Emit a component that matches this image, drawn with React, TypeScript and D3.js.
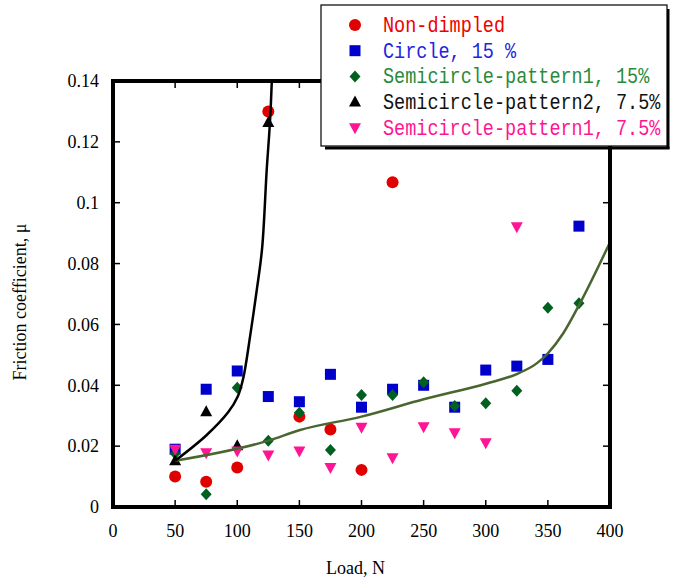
import React from "react";
import * as d3 from "d3";

const loads = [50, 75, 100, 125, 150, 175, 200, 225, 250, 275, 300, 325, 350, 375];

const nonDimpled: [number, number][] = [
  [50, 0.010], [75, 0.0083], [100, 0.013], [125, 0.130], [150, 0.0297],
  [175, 0.0255], [200, 0.0122], [225, 0.1067],
];
const circle15: [number, number][] = [
  [50, 0.019], [75, 0.0387], [100, 0.0447], [125, 0.0363], [150, 0.0346],
  [175, 0.0436], [200, 0.0328], [225, 0.0387], [250, 0.040], [275, 0.0328],
  [300, 0.045], [325, 0.0463], [350, 0.0485], [375, 0.0923],
];
const semi1_15: [number, number][] = [
  [50, 0.0176], [75, 0.0042], [100, 0.0392], [125, 0.0218], [150, 0.031],
  [175, 0.0187], [200, 0.0368], [225, 0.0368], [250, 0.041], [275, 0.0332],
  [300, 0.0341], [325, 0.0382], [350, 0.0655], [375, 0.067],
];
const semi2_75: [number, number][] = [
  [50, 0.0152], [75, 0.0313], [100, 0.0201], [125, 0.1264],
];
const semi1_75: [number, number][] = [
  [50, 0.019], [75, 0.0178], [100, 0.0184], [125, 0.0171], [150, 0.0184],
  [175, 0.013], [200, 0.0262], [225, 0.0162], [250, 0.0264], [275, 0.0244],
  [300, 0.0211], [325, 0.0921],
];

// fitted trend curves
const blackCurve: [number, number][] = [
  [50, 0.0152], [75, 0.0235], [92.8, 0.0312], [100.3, 0.0362], [104.9, 0.0425],
  [110.3, 0.056], [115.6, 0.071], [120, 0.085], [123.7, 0.1107], [126.4, 0.127], [128, 0.142],
];
const greenCurve: [number, number][] = [
  [50, 0.0152], [125, 0.0218], [150.5, 0.0253], [200, 0.0297], [250, 0.0354],
  [300.8, 0.0406], [325, 0.0437], [341, 0.0472], [350, 0.0505], [362.4, 0.0571],
  [375.8, 0.0669], [400, 0.087],
];

const xTicks = [0, 50, 100, 150, 200, 250, 300, 350, 400];
const yTicks = [0, 0.02, 0.04, 0.06, 0.08, 0.1, 0.12, 0.14];

const legendLabels = [
  "Non-dimpled",
  "Circle, 15 %",
  "Semicircle-pattern1, 15%",
  "Semicircle-pattern2, 7.5%",
  "Semicircle-pattern1, 7.5%",
];

const L = 113, R = 610, T = 81, B = 507;

function Marker({ shape, cx, cy, color }: { shape: string; cx: number; cy: number; color: string }) {
  if (shape === "circle") return <circle cx={cx} cy={cy} r={6} fill={color} />;
  if (shape === "square") return <rect x={cx - 5.5} y={cy - 5.5} width={11} height={11} fill={color} />;
  if (shape === "diamond")
    return <polygon points={`${cx},${cy - 6} ${cx + 5.5},${cy} ${cx},${cy + 6} ${cx - 5.5},${cy}`} fill={color} />;
  if (shape === "tri")
    return <polygon points={`${cx},${cy - 6.5} ${cx + 6},${cy + 4.5} ${cx - 6},${cy + 4.5}`} fill={color} />;
  return <polygon points={`${cx},${cy + 6.5} ${cx + 6},${cy - 4.5} ${cx - 6},${cy - 4.5}`} fill={color} />;
}

export default function App() {
  const x = d3.scaleLinear().domain([0, 400]).range([L, R]);
  const y = d3.scaleLinear().domain([0, 0.14]).range([B, T]);

  const series = [
    { data: nonDimpled, shape: "circle", color: "#e00000", text: "#ee0000" },
    { data: circle15, shape: "square", color: "#0000cc", text: "#2424e0" },
    { data: semi1_15, shape: "diamond", color: "#006020", text: "#2a8a3a" },
    { data: semi2_75, shape: "tri", color: "#000000", text: "#111111" },
    { data: semi1_75, shape: "triDown", color: "#ff1493", text: "#ff1493" },
  ];

  const blackLine = d3.line<[number, number]>().x((d) => x(d[0])).y((d) => y(d[1])).curve(d3.curveCatmullRom.alpha(0.5));
  const greenLine = d3.line<[number, number]>().x((d) => x(d[0])).y((d) => y(d[1])).curve(d3.curveMonotoneX);

  const serif = "'Liberation Serif', 'Times New Roman', serif";
  const mono = "'Liberation Mono', 'DejaVu Sans Mono', monospace";

  return (
    <svg width={675} height={581} style={{ position: "absolute", left: 0, top: 0, background: "#fff" }}>
      <defs>
        <clipPath id="plot">
          <rect x={L} y={T} width={R - L} height={B - T} />
        </clipPath>
      </defs>
      <rect x={0} y={0} width={675} height={581} fill="#fff" />

      {/* ticks */}
      {yTicks.slice(1, -1).map((t) => (
        <g key={"yt" + t}>
          <line x1={L} x2={L + 7} y1={y(t)} y2={y(t)} stroke="#000" strokeWidth={1.5} />
          <line x1={R} x2={R - 7} y1={y(t)} y2={y(t)} stroke="#000" strokeWidth={1.5} />
        </g>
      ))}
      {xTicks.slice(1, -1).map((t) => (
        <g key={"xt" + t}>
          <line x1={x(t)} x2={x(t)} y1={B} y2={B - 7} stroke="#000" strokeWidth={1.5} />
          <line x1={x(t)} x2={x(t)} y1={T} y2={T + 7} stroke="#000" strokeWidth={1.5} />
        </g>
      ))}

      {/* markers */}
      {series.map((s, i) => (
        <g key={"s" + i}>
          {s.data.map((d, j) => (
            <Marker key={j} shape={s.shape} cx={x(d[0])} cy={y(d[1])} color={s.color} />
          ))}
        </g>
      ))}

      {/* curves */}
      <g clipPath="url(#plot)">
        <path d={greenLine(greenCurve) || ""} fill="none" stroke="#4a6630" strokeWidth={2.5} />
        <path d={blackLine(blackCurve) || ""} fill="none" stroke="#000" strokeWidth={2.5} />
      </g>

      {/* frame */}
      <rect x={L} y={T} width={R - L} height={B - T} fill="none" stroke="#000" strokeWidth={4} />

      {/* tick labels */}
      {yTicks.map((t) => (
        <text key={"yl" + t} x={L - 14} y={y(t)} dy="0.35em" textAnchor="end" fontFamily={serif} fontSize={18} fill="#000">
          {t === 0 ? "0" : String(t)}
        </text>
      ))}
      {xTicks.map((t) => (
        <text key={"xl" + t} x={x(t)} y={B + 30} textAnchor="middle" fontFamily={serif} fontSize={18} fill="#000">
          {t}
        </text>
      ))}
      <text x={(L + R) / 2 - 6} y={574} textAnchor="middle" fontFamily={serif} fontSize={18} fill="#000">
        Load, N
      </text>
      <text transform={`translate(26, ${(T + B) / 2 + 8}) rotate(-90)`} textAnchor="middle" fontFamily={serif} fontSize={18} fill="#000">
        Friction coefficient, μ
      </text>

      {/* legend */}
      <line x1={668} x2={668} y1={9} y2={149} stroke="#000" strokeWidth={3} />
      <line x1={325} x2={669.5} y1={148} y2={148} stroke="#000" strokeWidth={3} />
      <rect x={321} y={5} width={346} height={141} fill="#fff" stroke="#000" strokeWidth={1.2} />
      {series.map((s, i) => {
        const cy = 25 + i * 25.7;
        return (
          <g key={"lg" + i}>
            <Marker shape={s.shape} cx={355} cy={cy} color={s.color} />
            <g transform={`translate(383, ${cy + 7}) scale(1, 1.2)`}>
              <text x={0} y={0} fontFamily={mono} fontSize={18.5} fill={s.text}>
                {legendLabels[i]}
              </text>
            </g>
          </g>
        );
      })}
    </svg>
  );
}
